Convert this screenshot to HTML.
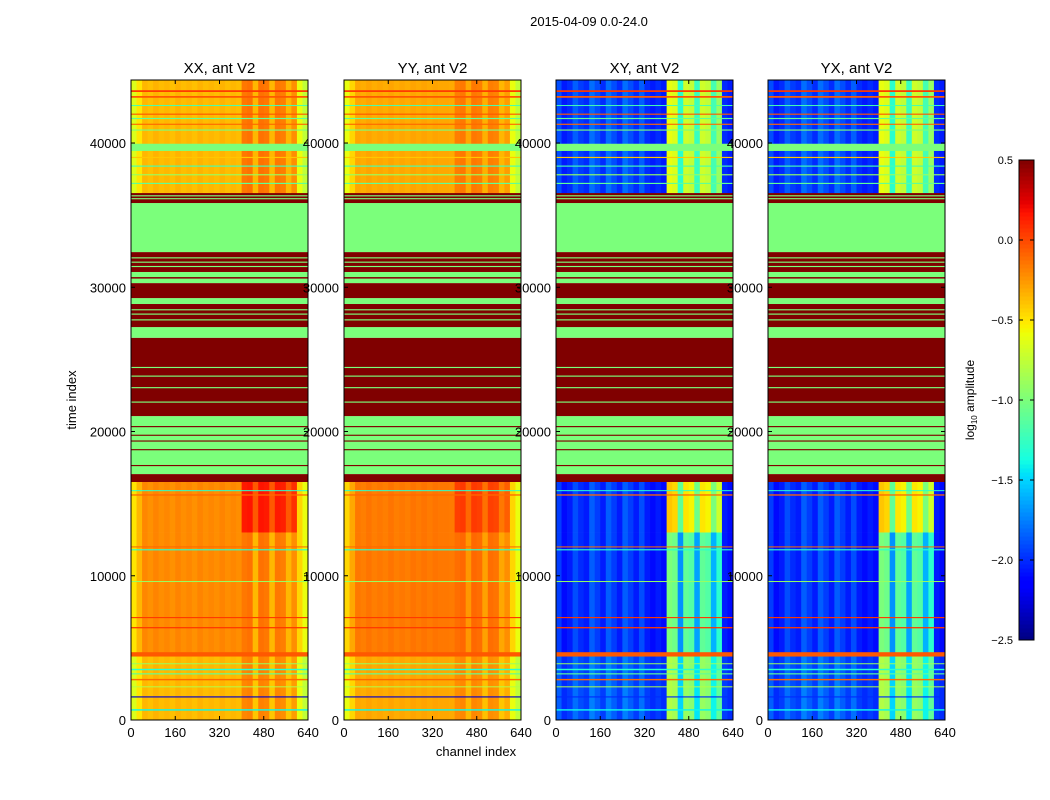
<!DOCTYPE html>
<html><head><meta charset="utf-8"><style>
body{margin:0;background:#fff;}
svg{display:block;font-family:"Liberation Sans",sans-serif;}
</style></head><body>
<svg id="fig" width="1050" height="800" xmlns="http://www.w3.org/2000/svg">
<rect width="1050" height="800" fill="#fff"/>
<text x="589" y="26" font-size="13" text-anchor="middle">2015-04-09 0.0-24.0</text>
<text x="476" y="756" font-size="13" text-anchor="middle">channel index</text>
<text x="76" y="400" font-size="13" text-anchor="middle" transform="rotate(-90 76 400)">time index</text>
<g id="panels"></g>
<g id="cbar"></g>
</svg>
<script>
// ---- data ----
const panelTitles = ["XX, ant V2","YY, ant V2","XY, ant V2","YX, ant V2"];
const xTicks = [0,160,320,480,640];
const yTicks = [0,10000,20000,30000,40000];
const cbarTicks = [0.5,0.0,-0.5,-1.0,-1.5,-2.0,-2.5];
const cbarLabels = ["0.5","0.0","\u22120.5","\u22121.0","\u22121.5","\u22122.0","\u22122.5"];
// channel profiles (20-channel bins)
const xxBase = [-0.5,-0.35,-0.2,-0.23,-0.19,-0.22,-0.2,-0.23,-0.19,-0.22,-0.2,-0.23,-0.19,-0.22,-0.2,-0.22,-0.19,-0.22,-0.2,-0.22,-0.15,-0.13,-0.35,-0.13,-0.15,-0.35,-0.15,-0.17,-0.35,-0.22,-0.45,-0.6];
const yyBase = [-0.45,-0.3,-0.15,-0.17,-0.14,-0.17,-0.15,-0.17,-0.14,-0.17,-0.15,-0.17,-0.14,-0.16,-0.14,-0.16,-0.14,-0.15,-0.15,-0.16,-0.12,-0.1,-0.25,-0.1,-0.12,-0.28,-0.12,-0.14,-0.3,-0.22,-0.45,-0.6];
const xyBase = [-1.95,-2.1,-2.05,-1.9,-2.0,-2.05,-1.85,-1.95,-2.05,-1.85,-1.95,-2.05,-1.85,-1.95,-2.05,-1.9,-2.05,-2.1,-2.05,-2.1,-1.0,-1.05,-1.7,-1.1,-1.15,-1.65,-1.1,-1.15,-1.6,-1.3,-2.05,-2.1];
const yxBase = [-1.95,-2.1,-2.05,-1.9,-2.0,-2.05,-1.85,-1.95,-2.05,-1.85,-1.95,-2.05,-1.85,-1.95,-2.05,-1.9,-2.05,-2.1,-2.05,-2.1,-1.0,-1.05,-1.7,-1.1,-1.15,-1.65,-1.1,-1.15,-1.6,-1.3,-2.05,-2.1];
// unflagged time segments
const segStart = [0,4500,13000,36500];
const segEnd = [4500,13000,16500,44370];
const xxSegOff = [-0.15,0,0,-0.15];
const xxSegHot = [0.1,0,0.3,0.15];
const yySegOff = [-0.15,0,0,-0.15];
const yySegHot = [0.05,0,0.15,0.1];
const xySegOff = [0.1,0,0,0.05];
const xySegHot = [0.1,0,0.6,0.35];
// fully flagged bands (start, end, value) shared by all panels
const flagStart = [16500,17050,17600,18700,19300,19700,20300,21070,22000,23000,23800,24400,26500,27240,27700,28100,28400,28840,29250,30290,30600,30710,31060,31400,31700,32000,32440,35840,36100,36300];
const flagEnd   = [17050,21070,17680,18780,19380,19780,20380,26500,22080,23080,23880,24480,27240,28840,27780,28180,28480,29250,30290,30600,30710,31060,32440,31480,31780,32080,35840,36530,36180,36380];
const flagVal   = [0.5,-1.0,0.5,0.5,0.5,0.5,0.5,0.5,-1.0,-1.0,-1.0,-1.0,-1.0,0.5,-1.0,-1.0,-1.0,-1.0,0.5,-1.0,0.5,-1.0,0.5,-1.0,-1.0,-1.0,-1.0,0.5,-1.0,-1.0];
// individual flagged rows (time, thickness, value)
const lineT = [700,1600,2300,2800,3200,3500,3900,4550,6400,7100,9600,11800,12000,15600,15900,37200,37800,38400,39000,39700,40900,41300,41700,42000,42600,43200,43600];
const lineW = [100,80,60,100,80,100,60,300,90,80,60,80,70,90,70,80,80,80,80,500,80,80,80,80,60,120,120];
const lineV = [-1.4,-2.3,-0.8,-0.1,-1.1,-1.3,-0.9,-0.05,0.05,0.05,-0.9,-1.3,-0.1,-0.1,-1.3,-1.1,-0.9,-1.2,-0.4,-1.0,-1.0,-0.1,-1.1,-0.05,-1.2,-0.05,0.05];
// ---- rendering ----
const panelX=[131,344,556,768], PW=177, PT=80, PB=720, TMAX=44370;
const bases=[xxBase,yyBase,xyBase,yxBase];
const offs=[xxSegOff,yySegOff,xySegOff,xySegOff];
const hots=[xxSegHot,yySegHot,xySegHot,xySegHot];
const VMIN=-2.5,VMAX=0.5;
function interp(pts,x){for(let i=1;i<pts.length;i++){if(x<=pts[i][0]){const a=pts[i-1],b=pts[i];return a[1]+(b[1]-a[1])*(x-a[0])/(b[0]-a[0]);}}return pts[pts.length-1][1];}
function jet(v){let x=(v-VMIN)/(VMAX-VMIN);x=Math.max(0,Math.min(1,x));
 const r=interp([[0,0],[0.35,0],[0.66,1],[0.89,1],[1,0.5]],x),g=interp([[0,0],[0.125,0],[0.375,1],[0.64,1],[0.91,0],[1,0]],x),b=interp([[0,0.5],[0.11,1],[0.34,1],[0.65,0],[1,0]],x);
 return `rgb(${Math.round(r*255)},${Math.round(g*255)},${Math.round(b*255)})`;}
const NS="http://www.w3.org/2000/svg";
function mk(tag,attrs,parent){const e=document.createElementNS(NS,tag);for(const k in attrs)e.setAttribute(k,attrs[k]);parent.appendChild(e);return e;}
function ty(t){return PB-(t/TMAX)*(PB-PT);}
const panels=document.getElementById('panels');
for(let p=0;p<4;p++){
 const x0=panelX[p]; const cx=c=>x0+c/640*PW;
 const g=mk('g',{},panels);
 
 
 const base=bases[p];
 for(let s=0;s<segStart.length;s++){
  for(let c=0;c<base.length;c++){
   const hot=(c>=20&&c<30)?hots[p][s]:0;
   const v=base[c]+offs[p][s]+hot;
   const r=mk('rect',{x:cx(c*20),y:ty(segEnd[s]),width:PW/32+0.4,height:ty(segStart[s])-ty(segEnd[s]),fill:jet(v)},g);
   
   
  }
 }
 for(let i=0;i<flagStart.length;i++){
  const r=mk('rect',{x:x0,y:ty(flagEnd[i]),width:PW,height:ty(flagStart[i])-ty(flagEnd[i]),fill:jet(flagVal[i])},g);
  
  
 }
 for(let i=0;i<lineT.length;i++){
  const h=Math.max(1,(lineW[i]/TMAX)*(PB-PT));
  const v=p>=2&&lineV[i]<-1.5?lineV[i]+0.3:lineV[i];
  const r=mk('rect',{x:x0,y:ty(lineT[i])-h/2,width:PW,height:h,fill:jet(v)},g);
  
  
 }
 const fr=mk('rect',{x:x0,y:PT,width:PW,height:PB-PT,fill:'none',stroke:'#000','stroke-width':1},g);
 
 
 const tt=mk('text',{x:x0+PW/2,y:73,'font-size':15,'text-anchor':'middle'},g);tt.textContent=panelTitles[p];
 
 
 xTicks.forEach(t=>{const X=cx(t);
  mk('line',{x1:X,x2:X,y1:PB,y2:PB-4,stroke:'#000'},g);mk('line',{x1:X,x2:X,y1:PT,y2:PT+4,stroke:'#000'},g);
  const l=mk('text',{x:X,y:737,'font-size':13,'text-anchor':'middle'},g);l.textContent=t;
  
  });
 yTicks.forEach(t=>{const Y=ty(t);
  mk('line',{x1:x0,x2:x0+4,y1:Y,y2:Y,stroke:'#000'},g);mk('line',{x1:x0+PW,x2:x0+PW-4,y1:Y,y2:Y,stroke:'#000'},g);
  const l=mk('text',{x:x0-5,y:Y+5,'font-size':13,'text-anchor':'end'},g);l.textContent=t;
  
  });
}
// colorbar
const cb=document.getElementById('cbar');


const CX=1019,CW=15,CT=160,CB=640,N=120;
for(let i=0;i<N;i++){const v=VMIN+(i+0.5)/N*(VMAX-VMIN);const y=CB-(i+1)/N*(CB-CT);
 const r=mk('rect',{x:CX,y:y,width:CW,height:(CB-CT)/N+0.5,fill:jet(v)},cb);
 
 }
mk('rect',{x:CX,y:CT,width:CW,height:CB-CT,fill:'none',stroke:'#000'},cb);
cbarTicks.forEach((t,i)=>{const y=CB-(t-VMIN)/(VMAX-VMIN)*(CB-CT);
 mk('line',{x1:CX,x2:CX+4,y1:y,y2:y,stroke:'#000'},cb);mk('line',{x1:CX+CW,x2:CX+CW-4,y1:y,y2:y,stroke:'#000'},cb);
 const l=mk('text',{x:1013,y:y+4,'font-size':11,'text-anchor':'end'},cb);l.textContent=cbarLabels[i];
 
 });
const cl=mk('text',{x:974,y:400,'font-size':12,'text-anchor':'middle',transform:'rotate(-90 974 400)'},cb);
cl.innerHTML='log<tspan font-size="8" dy="3">10</tspan><tspan dy="-3"> amplitude</tspan>';


</script>
</body></html>
